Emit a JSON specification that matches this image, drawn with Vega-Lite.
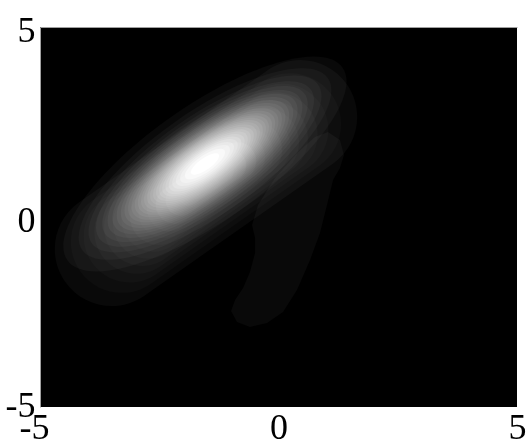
{
  "$schema": "https://vega.github.io/schema/vega-lite/v6.json",
  "width": 477,
  "height": 380,
  "autosize": {"type": "none"},
  "padding": {"left": 40, "top": 27, "right": 9, "bottom": 39},
  "background": "white",
  "config": {
    "view": {"fill": "black", "stroke": null},
    "axis": {
      "labelFont": "Liberation Serif",
      "labelFontSize": 36,
      "labelColor": "black",
      "ticks": false,
      "tickSize": 0,
      "domain": false,
      "grid": false,
      "title": null,
      "labelOverlap": false,
      "labelFlush": false,
      "labelExpr": "datum.value < 0 ? '-' + abs(datum.value) : '' + datum.value"
    }
  },
  "encoding": {
    "x": {"field": "x", "type": "quantitative", "scale": {"domain": [-5, 5], "nice": false, "zero": false}, "axis": null},
    "y": {"field": "y", "type": "quantitative", "scale": {"domain": [-5, 5], "nice": false, "zero": false}, "axis": null},
    "color": {
      "field": "level", "type": "quantitative", "legend": null,
      "scale": {
        "zero": false, "nice": false, "interpolate": "rgb",
        "domain": [0.0333,0.0667,0.1,0.1333,0.1667,0.2,0.2333,0.2667,0.3,0.3333,0.3667,0.4,0.4333,0.4667,0.5,0.5333,0.5667,0.6,0.6333,0.6667,0.7,0.7333,0.7667,0.8,0.8333,0.8667,0.9,0.9333,0.9667],
        "range": ["#090909","#090909","#090909","#0a0a0a","#0a0a0a","#0b0b0b","#0b0b0b","#0c0c0c","#0c0c0c","#0d0d0d","#0d0d0d","#0e0e0e","#0f0f0f","#101010","#111111","#121212","#141414","#151515","#171717","#1a1a1a","#1c1c1c","#202020","#242424","#2b2b2b","#333333","#404040","#555555","#808080","#ffffff"]
      }
    }
  },
  "resolve": {"scale": {"size": "independent", "color": "independent"}, "axis": {"x": "independent", "y": "independent"}},
  "layer": [
    {
      "data": {"values": [{"part": "tail", "x": 0.189, "y": -0.329, "level": 0.0333}]},
      "mark": {"type": "point", "filled": true, "opacity": 1, "strokeWidth": 0, "blend": "screen", "size": 38025,
        "shape": "M0.415,-1L0.538,-0.918L0.579,-0.764L0.538,-0.631L0.467,-0.508L0.405,-0.251L0.333,0.036L0.231,0.313L0.097,0.621L-0.046,0.846L-0.21,0.959L-0.385,1L-0.518,0.949L-0.579,0.836L-0.538,0.723L-0.456,0.6L-0.385,0.436L-0.333,0.241L-0.333,0.087L-0.364,-0.046L-0.303,-0.251L-0.128,-0.528L0.108,-0.795L0.282,-0.949Z"},
      "encoding": {
        "x": {"field": "x", "type": "quantitative", "axis": {"orient": "top", "labels": false, "domain": true, "domainColor": "#a0a0a0", "domainWidth": 1}},
        "y": {"field": "y", "type": "quantitative", "axis": {"orient": "left", "values": [-5, 0, 5], "labelPadding": 5, "domain": true, "domainColor": "#a0a0a0", "domainWidth": 1, "labelOffset": {"condition": {"test": "datum.value === -5", "value": -2}, "value": 3}}}
      }
    },
    {
      "data": {"values": [
        {"part": "broad", "x": -1.52, "y": 0.895, "level": 0.0333},
        {"part": "broad", "x": -1.52, "y": 0.895, "level": 0.05},
        {"part": "broad", "x": -1.52, "y": 0.895, "level": 0.0667},
        {"part": "broad", "x": -1.52, "y": 0.895, "level": 0.0833},
        {"part": "broad", "x": -1.52, "y": 0.895, "level": 0.1},
        {"part": "broad", "x": -1.52, "y": 0.895, "level": 0.1167},
        {"part": "broad", "x": -1.52, "y": 0.895, "level": 0.1333},
        {"part": "broad", "x": -1.52, "y": 0.895, "level": 0.15},
        {"part": "broad", "x": -1.52, "y": 0.895, "level": 0.1667},
        {"part": "broad", "x": -1.52, "y": 0.895, "level": 0.1833},
        {"part": "broad", "x": -1.52, "y": 0.895, "level": 0.2},
        {"part": "broad", "x": -1.52, "y": 0.895, "level": 0.2167},
        {"part": "broad", "x": -1.52, "y": 0.895, "level": 0.2333}
      ]},
      "mark": {"type": "point", "filled": true, "opacity": 1, "strokeWidth": 0, "blend": "screen", "angle": 325,
        "shape": "M-0.669,-0.331L0.669,-0.331C0.852,-0.331 1,-0.183 1,0C1,0.183 0.852,0.331 0.669,0.331L-0.669,0.331C-0.852,0.331 -1,0.183 -1,0C-1,-0.183 -0.852,-0.331 -0.669,-0.331Z"},
      "encoding": {
        "size": {"field": "level", "type": "quantitative", "legend": null, "scale": {"type": "log", "zero": false, "nice": false, "domain": [0.0333, 0.25], "range": [118336, 0]}},
        "color": {"field": "level", "type": "quantitative", "legend": null, "scale": {"zero": false, "nice": false, "interpolate": "rgb",
          "domain": [0.0333,0.05,0.0667,0.0833,0.1,0.1167,0.1333,0.15,0.1667,0.1833,0.2,0.2167,0.2333],
          "range": ["#090909","#050505","#050505","#050505","#050505","#050505","#050505","#050505","#050505","#050505","#050505","#060606","#060606"]}}
      }
    },
    {
      "data": {"values": [
        {"part": "core", "x": -1.541, "y": 1.395, "level": 0.0333},
        {"part": "core", "x": -1.541, "y": 1.395, "level": 0.0667},
        {"part": "core", "x": -1.541, "y": 1.395, "level": 0.1},
        {"part": "core", "x": -1.541, "y": 1.395, "level": 0.1333},
        {"part": "core", "x": -1.541, "y": 1.395, "level": 0.1667},
        {"part": "core", "x": -1.541, "y": 1.395, "level": 0.2},
        {"part": "core", "x": -1.541, "y": 1.395, "level": 0.2333},
        {"part": "core", "x": -1.541, "y": 1.395, "level": 0.2667},
        {"part": "core", "x": -1.541, "y": 1.395, "level": 0.3},
        {"part": "core", "x": -1.541, "y": 1.395, "level": 0.3333},
        {"part": "core", "x": -1.541, "y": 1.395, "level": 0.3667},
        {"part": "core", "x": -1.541, "y": 1.395, "level": 0.4},
        {"part": "core", "x": -1.541, "y": 1.395, "level": 0.4333},
        {"part": "core", "x": -1.541, "y": 1.395, "level": 0.4667},
        {"part": "core", "x": -1.541, "y": 1.395, "level": 0.5},
        {"part": "core", "x": -1.541, "y": 1.395, "level": 0.5333},
        {"part": "core", "x": -1.541, "y": 1.395, "level": 0.5667},
        {"part": "core", "x": -1.541, "y": 1.395, "level": 0.6},
        {"part": "core", "x": -1.541, "y": 1.395, "level": 0.6333},
        {"part": "core", "x": -1.541, "y": 1.395, "level": 0.6667},
        {"part": "core", "x": -1.541, "y": 1.395, "level": 0.7},
        {"part": "core", "x": -1.541, "y": 1.395, "level": 0.7333},
        {"part": "core", "x": -1.541, "y": 1.395, "level": 0.7667},
        {"part": "core", "x": -1.541, "y": 1.395, "level": 0.8},
        {"part": "core", "x": -1.541, "y": 1.395, "level": 0.8333},
        {"part": "core", "x": -1.541, "y": 1.395, "level": 0.8667},
        {"part": "core", "x": -1.541, "y": 1.395, "level": 0.9},
        {"part": "core", "x": -1.541, "y": 1.395, "level": 0.9333},
        {"part": "core", "x": -1.541, "y": 1.395, "level": 0.9667}
      ]},
      "mark": {"type": "point", "filled": true, "opacity": 1, "strokeWidth": 0, "blend": "screen", "angle": 325,
        "shape": "M1,0C1,0.1906 0.5523,0.345 0,0.345C-0.5523,0.345 -1,0.1906 -1,0C-1,-0.1906 -0.5523,-0.345 0,-0.345C0.5523,-0.345 1,-0.1906 1,0Z"},
      "encoding": {
        "x": {"field": "x", "type": "quantitative", "axis": {"orient": "bottom", "values": [-5, 0, 5], "labelPadding": 3, "labelOffset": {"condition": {"test": "datum.value === -5", "value": -6}, "value": 0}}},
        "size": {"field": "level", "type": "quantitative", "legend": null, "scale": {"type": "log", "zero": false, "nice": false, "domain": [0.0333, 1], "range": [112896, 0]}}
      }
    }
  ]
}
